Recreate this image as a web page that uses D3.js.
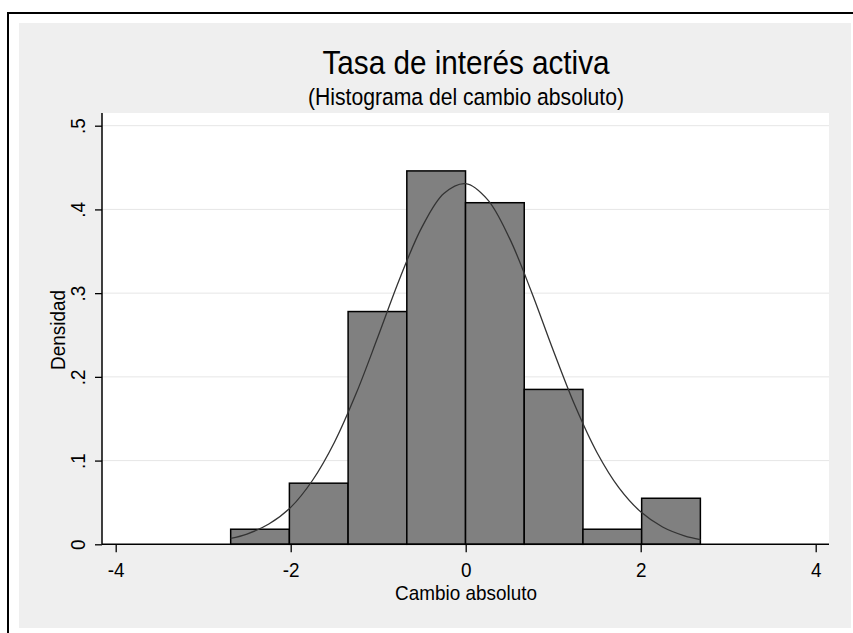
<!DOCTYPE html>
<html>
<head>
<meta charset="utf-8">
<script src="https://cdn.jsdelivr.net/npm/d3@7"></script>
<style>
  body { margin: 0; background: #fff; }
  svg { display: block; font-family: Arial, "Liberation Sans", Helvetica, sans-serif; }
</style>
</head>
<body>
<div id="chart"></div>
<script>
// histogram bins (left edge, right edge) and density heights
const binEdges = [-2.686, -2.015, -1.344, -0.673, -0.002, 0.669, 1.340, 2.011, 2.682];
const densities = [0.018, 0.073, 0.278, 0.446, 0.408, 0.185, 0.018, 0.055];

// normal density overlay
const curveX = [-2.686, -2.5, -2.25, -2, -1.75, -1.5, -1.25, -1, -0.75, -0.5, -0.25, 0,
                0.25, 0.5, 0.75, 1, 1.25, 1.5, 1.75, 2, 2.25, 2.5, 2.682];
const curveY = [0.0070, 0.0122, 0.0242, 0.0441, 0.0765, 0.1219, 0.1806, 0.2487, 0.3184, 0.3788, 0.4190, 0.4308,
                0.4117, 0.3657, 0.3020, 0.2318, 0.1654, 0.1097, 0.0677, 0.0388, 0.0207, 0.0102, 0.0057];

const xTicks = [-4, -2, 0, 2, 4];
const yTicks = [0, 0.1, 0.2, 0.3, 0.4, 0.5];
const yTickLabels = ["0", ".1", ".2", ".3", ".4", ".5"];

const W = 853, H = 633;
const squeeze = "scale(0.9,1)"; // stata's text looks a bit narrow

const svg = d3.select("#chart").append("svg")
    .attr("width", W)
    .attr("height", H);

// outer frame and graph region
svg.append("rect")
    .attr("x", 8).attr("y", 13)
    .attr("width", 860).attr("height", 640)
    .attr("fill", "#fff")
    .attr("stroke", "#000")
    .attr("stroke-width", 2);
svg.append("rect")
    .attr("x", 19).attr("y", 23)
    .attr("width", 832).attr("height", 605)
    .attr("fill", "#efefef");

const plot = { left: 102, right: 829, top: 113, bottom: 544 };

const x = d3.scaleLinear().domain([-4, 4]).range([115.7, 815.7]);
const y = d3.scaleLinear().domain([0, 0.5]).range([544.3, 125.7]);

// plot region
svg.append("rect")
    .attr("x", plot.left).attr("y", plot.top)
    .attr("width", plot.right - plot.left)
    .attr("height", plot.bottom - plot.top)
    .attr("fill", "#fff");

// gridlines
svg.append("g").selectAll("line")
    .data(yTicks.slice(1))
    .enter().append("line")
    .attr("x1", plot.left).attr("x2", plot.right)
    .attr("y1", d => y(d)).attr("y2", d => y(d))
    .attr("stroke", "#e6e6e6")
    .attr("stroke-width", 1);

// bars
const bins = densities.map((d, i) => ({ x0: binEdges[i], x1: binEdges[i + 1], h: d }));
svg.append("g").selectAll("rect")
    .data(bins)
    .enter().append("rect")
    .attr("x", d => x(d.x0))
    .attr("width", d => x(d.x1) - x(d.x0))
    .attr("y", d => y(d.h))
    .attr("height", d => y(0) - y(d.h))
    .attr("fill", "#808080")
    .attr("stroke", "#000")
    .attr("stroke-width", 1.5);

// normal curve
const line = d3.line()
    .x(d => x(d[0]))
    .y(d => y(d[1]))
    .curve(d3.curveCatmullRom.alpha(0.5));
svg.append("path")
    .datum(curveX.map((v, i) => [v, curveY[i]]))
    .attr("d", line)
    .attr("fill", "none")
    .attr("stroke", "#333")
    .attr("stroke-width", 1.3);

// y axis
const yAxis = svg.append("g").attr("transform", `translate(${plot.left},0)`)
    .call(d3.axisLeft(y).tickValues(yTicks).tickSize(7).tickFormat((d, i) => yTickLabels[i]));
yAxis.select(".domain").attr("d", `M0,${plot.top}V${y(0)}`).attr("stroke-width", 1.5);
yAxis.selectAll(".tick line").attr("stroke-width", 1.3);
yAxis.selectAll(".tick text")
    .attr("x", 0).attr("dy", 0)
    .attr("transform", `translate(-17,0) rotate(-90) ${squeeze}`)
    .attr("text-anchor", "middle")
    .attr("font-size", 21)
    .attr("font-family", "Arial, 'Liberation Sans', sans-serif")
    .attr("fill", "#000");

// x axis
const xAxis = svg.append("g").attr("transform", `translate(0,${y(0)})`)
    .call(d3.axisBottom(x).tickValues(xTicks).tickSize(8).tickFormat(d => String(d)));
xAxis.select(".domain").attr("d", `M${plot.left},0H${plot.right}`).attr("stroke-width", 1.5);
xAxis.selectAll(".tick line").attr("stroke-width", 1.3);
xAxis.selectAll(".tick text")
    .attr("y", 0).attr("dy", 0)
    .attr("transform", `translate(0,33) ${squeeze}`)
    .attr("font-size", 21)
    .attr("font-family", "Arial, 'Liberation Sans', sans-serif")
    .attr("fill", "#000");

// axis titles
svg.append("text")
    .attr("transform", `translate(65,330) rotate(-90) ${squeeze}`)
    .attr("text-anchor", "middle")
    .attr("font-size", 21)
    .text("Densidad");
svg.append("text")
    .attr("transform", `translate(466,600) ${squeeze}`)
    .attr("text-anchor", "middle")
    .attr("font-size", 21)
    .text("Cambio absoluto");

// titles
svg.append("text")
    .attr("transform", `translate(466,74) ${squeeze}`)
    .attr("text-anchor", "middle")
    .attr("font-size", 33)
    .text("Tasa de interés activa");
svg.append("text")
    .attr("transform", `translate(466,105) ${squeeze}`)
    .attr("text-anchor", "middle")
    .attr("font-size", 23.5)
    .text("(Histograma del cambio absoluto)");
</script>
</body>
</html>
